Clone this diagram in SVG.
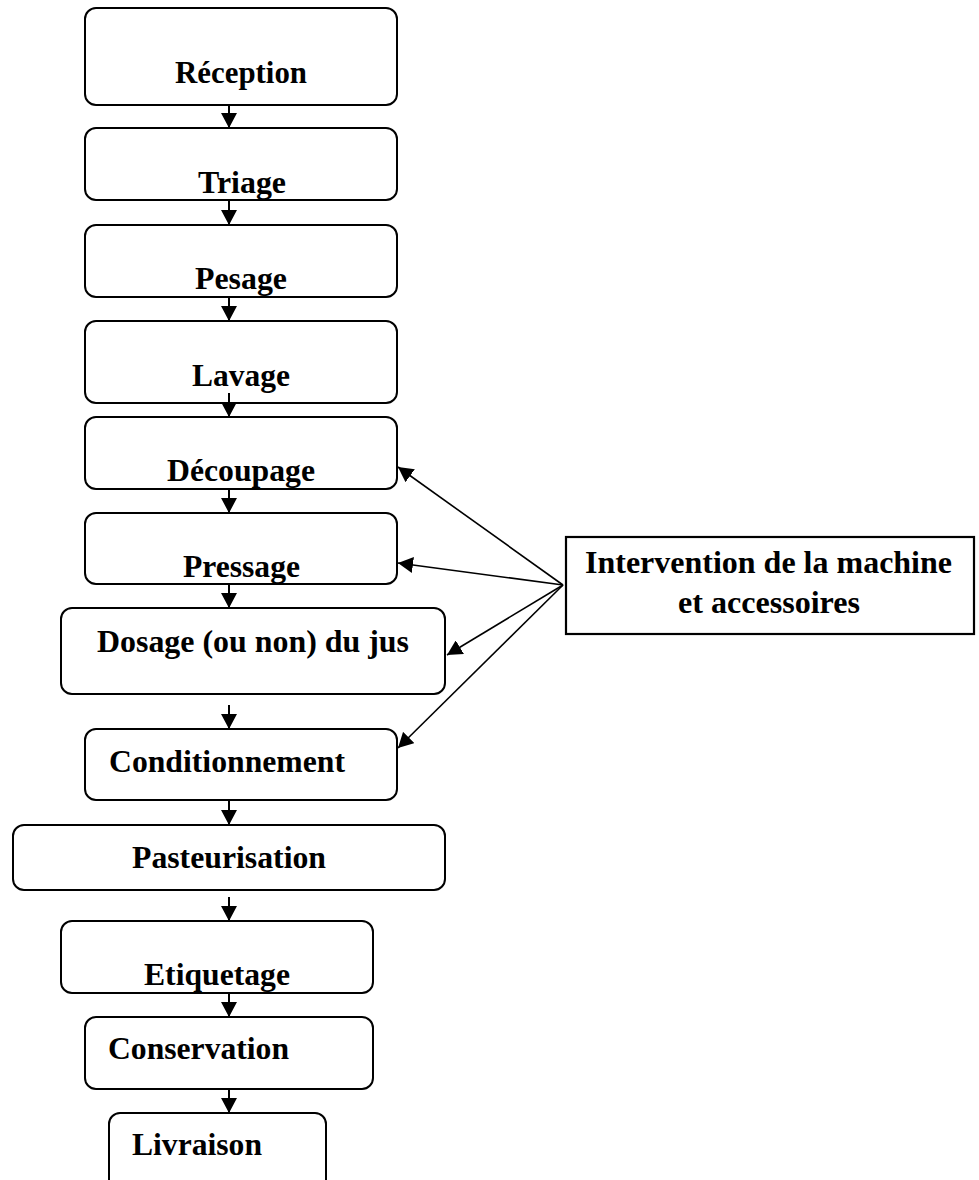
<svg xmlns="http://www.w3.org/2000/svg" width="979" height="1180" viewBox="0 0 979 1180">
<style>
.box{fill:#fff;stroke:#000;stroke-width:2}
.t{font-family:"Liberation Serif","Times New Roman",serif;font-weight:bold;fill:#000}
.s{font-size:31px}
.b{font-size:32px}
.c{stroke:#000;stroke-width:2;fill:none}
.d{stroke:#000;stroke-width:1.6;fill:none}
</style>
<defs>
<marker id="ah" markerUnits="userSpaceOnUse" markerWidth="16" markerHeight="16" refX="15" refY="8" orient="auto">
<path d="M0,0 L15,8 L0,16 z" fill="#000"/>
</marker>
</defs>
<rect width="979" height="1180" fill="#fff"/>
<g id="n1"><rect class="box" x="85" y="8" width="312" height="97" rx="11"/><text class="t s" x="175" y="83" textLength="132" lengthAdjust="spacingAndGlyphs">Réception</text></g>
<g id="n2"><rect class="box" x="85" y="128" width="312" height="72" rx="11"/><text class="t s" x="198" y="193" textLength="88" lengthAdjust="spacingAndGlyphs">Triage</text></g>
<g id="n3"><rect class="box" x="85" y="225" width="312" height="72" rx="11"/><text class="t s" x="195" y="289" textLength="92" lengthAdjust="spacingAndGlyphs">Pesage</text></g>
<g id="n4"><rect class="box" x="85" y="321" width="312" height="82" rx="11"/><text class="t s" x="192" y="386" textLength="98" lengthAdjust="spacingAndGlyphs">Lavage</text></g>
<g id="n5"><rect class="box" x="85" y="417" width="312" height="72" rx="11"/><text class="t s" x="167" y="481" textLength="148" lengthAdjust="spacingAndGlyphs">Découpage</text></g>
<g id="n6"><rect class="box" x="85" y="513" width="312" height="71" rx="11"/><text class="t s" x="183" y="577" textLength="117" lengthAdjust="spacingAndGlyphs">Pressage</text></g>
<g id="n7"><rect class="box" x="61" y="608" width="384" height="86" rx="11"/><text class="t b" x="97" y="652" textLength="312" lengthAdjust="spacingAndGlyphs">Dosage (ou non) du jus</text></g>
<g id="n8"><rect class="box" x="85" y="729" width="312" height="71" rx="11"/><text class="t b" x="109" y="772" textLength="236" lengthAdjust="spacingAndGlyphs">Conditionnement</text></g>
<g id="n9"><rect class="box" x="13" y="825" width="432" height="65" rx="11"/><text class="t b" x="132" y="868" textLength="194" lengthAdjust="spacingAndGlyphs">Pasteurisation</text></g>
<g id="n10"><rect class="box" x="61" y="921" width="312" height="72" rx="11"/><text class="t s" x="144" y="985" textLength="146" lengthAdjust="spacingAndGlyphs">Etiquetage</text></g>
<g id="n11"><rect class="box" x="85" y="1017" width="288" height="72" rx="11"/><text class="t b" x="108" y="1059" textLength="181" lengthAdjust="spacingAndGlyphs">Conservation</text></g>
<g id="n12"><rect class="box" x="109" y="1113" width="217" height="90" rx="11"/><text class="t b" x="132" y="1155" textLength="130" lengthAdjust="spacingAndGlyphs">Livraison</text></g>
<g id="n13"><rect x="566" y="537" width="408" height="97" fill="#fff" stroke="#000" stroke-width="2.2"/>
<text class="t b" x="585" y="573" textLength="367" lengthAdjust="spacingAndGlyphs">Intervention de la machine</text>
<text class="t b" x="678" y="613" textLength="182" lengthAdjust="spacingAndGlyphs">et accessoires</text></g>
<g id="connectors">
<line class="c" x1="229" y1="105" x2="229" y2="128" marker-end="url(#ah)"/>
<line class="c" x1="229" y1="200" x2="229" y2="225" marker-end="url(#ah)"/>
<line class="c" x1="229" y1="297" x2="229" y2="321" marker-end="url(#ah)"/>
<line class="c" x1="229" y1="393" x2="229" y2="417" marker-end="url(#ah)"/>
<line class="c" x1="229" y1="489" x2="229" y2="513" marker-end="url(#ah)"/>
<line class="c" x1="229" y1="584" x2="229" y2="608" marker-end="url(#ah)"/>
<line class="c" x1="229" y1="705" x2="229" y2="729" marker-end="url(#ah)"/>
<line class="c" x1="229" y1="800" x2="229" y2="825" marker-end="url(#ah)"/>
<line class="c" x1="229" y1="897" x2="229" y2="921" marker-end="url(#ah)"/>
<line class="c" x1="229" y1="993" x2="229" y2="1017" marker-end="url(#ah)"/>
<line class="c" x1="229" y1="1089" x2="229" y2="1113" marker-end="url(#ah)"/>
<line class="d" x1="563" y1="585" x2="398" y2="467" marker-end="url(#ah)"/>
<line class="d" x1="563" y1="585" x2="398" y2="563" marker-end="url(#ah)"/>
<line class="d" x1="563" y1="585" x2="447" y2="655" marker-end="url(#ah)"/>
<line class="d" x1="563" y1="585" x2="398" y2="748" marker-end="url(#ah)"/>
</g>
</svg>
